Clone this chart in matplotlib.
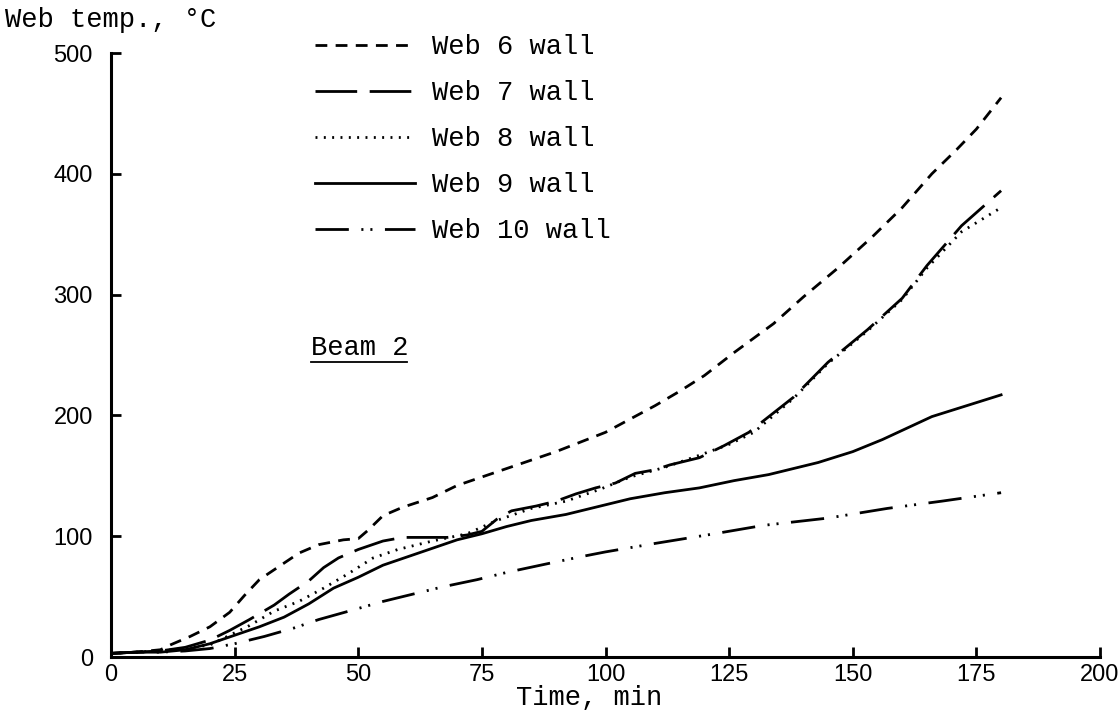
import matplotlib.pyplot as plt
import numpy as np

plt.rcParams['lines.scale_dashes'] = False

# Web 6 wall (dashed)
t6 = [0, 5, 10, 12, 16, 20, 24, 27, 30, 34, 38, 42, 47, 50, 52, 55, 59, 65, 70, 75,
      80, 85, 90, 95, 100, 105, 110, 115, 120, 126, 134, 140, 147, 154, 160, 166, 171, 175, 180]
T6 = [3, 4, 6, 10, 17, 25, 37, 51, 64, 75, 86, 93, 97, 98, 105, 117, 124, 132, 142, 149,
      156, 163, 170, 178, 186, 197, 208, 220, 233, 252, 276, 298, 322, 348, 372, 400, 420, 437, 463]

# Web 7 wall (long dash)
t7 = [0, 5, 10, 15, 20, 24, 28, 33, 36, 40, 43, 46, 50, 55, 59, 64, 68, 72, 75, 78,
      81, 86, 90, 94, 98, 102, 106, 110, 113, 119, 124, 129, 138, 145, 153, 160, 165, 172, 180]
T7 = [3, 4, 5, 8, 14, 22, 31, 43, 52, 63, 74, 82, 89, 96, 99, 99, 99, 101, 104, 114,
      121, 125, 129, 135, 140, 144, 152, 155, 159, 165, 175, 186, 215, 244, 271, 297, 324, 357, 386]

# Web 8 wall (dotted)
t8 = [0, 5, 10, 15, 20, 24, 28, 33, 38, 43, 48, 53, 58, 65, 72, 78, 85, 92, 99, 105,
      112, 119, 125, 130, 138, 145, 153, 160, 165, 172, 180]
T8 = [3, 4, 5, 7, 10, 18, 26, 38, 46, 57, 69, 82, 89, 96, 102, 113, 123, 129, 139, 149,
      157, 167, 176, 186, 214, 243, 270, 296, 322, 352, 372]

# Web 9 wall (solid)
t9 = [0, 5, 10, 15, 20, 25, 30, 35, 40, 45, 50, 55, 60, 65, 70, 75, 80, 85, 92, 99,
      105, 112, 119, 126, 133, 143, 150, 156, 166, 173, 180]
T9 = [3, 4, 4, 6, 11, 18, 25, 33, 44, 57, 66, 76, 83, 90, 97, 102, 108, 113, 118, 125,
      131, 136, 140, 146, 151, 161, 170, 180, 199, 208, 217]

# Web 10 wall (dash-dot-dot)
t10 = [0, 5, 10, 15, 20, 25, 31, 37, 42, 49, 55, 61, 67, 74, 80, 88, 95, 100, 110,
       122, 132, 145, 157, 168, 180]
T10 = [3, 4, 4, 5, 7, 11, 17, 24, 31, 39, 46, 52, 58, 64, 70, 77, 83, 87, 94,
       102, 109, 115, 123, 129, 136]

xticks = [0, 25, 50, 75, 100, 125, 150, 175, 200]
yticks = [0, 100, 200, 300, 400, 500]

mono = 'Liberation Mono'
fs = 19.5

fig = plt.figure(figsize=(11.18, 7.13), dpi=100)
ax = fig.add_axes([111 / 1118, 1 - 657 / 713, (1100 - 111) / 1118, (657 - 53) / 713])

lw = 2.0
ax.plot(t6, T6, color='black', lw=lw, dashes=(8.5, 6), label='Web 6 wall')
ax.plot(t7, T7, color='black', lw=lw, dashes=(30, 9), label='Web 7 wall')
ax.plot(t8, T8, color='black', lw=lw, dashes=(1.4, 4.6), label='Web 8 wall')
ax.plot(t9, T9, color='black', lw=lw, label='Web 9 wall')
ax.plot(t10, T10, color='black', lw=lw, dashes=(24, 9, 1.5, 5, 1.5, 9), label='Web 10 wall')

ax.set_xlim(0, 200)
ax.set_ylim(0, 500)
ax.set_xticks(xticks)
ax.set_yticks(yticks)
for s in ['top', 'right']:
    ax.spines[s].set_visible(False)
for s in ['left', 'bottom']:
    ax.spines[s].set_linewidth(2.2)
ax.tick_params(direction='in', length=7, width=2, labelsize=17)
ax.tick_params(axis='x', pad=5)
ax.tick_params(axis='y', pad=13)
for lab in ax.get_xticklabels() + ax.get_yticklabels():
    lab.set_family('Liberation Sans')

leg = ax.legend(loc='upper left', bbox_to_anchor=(315 / 1118, 1 - 34 / 713),
                bbox_transform=fig.transFigure, frameon=False, handlelength=3.69,
                handletextpad=0.63, labelspacing=0.74, borderpad=0, borderaxespad=0,
                prop={'family': mono, 'size': fs})

ax.text(40.5, 256, 'Beam 2', family=mono, fontsize=fs, va='center', ha='left')
ax.plot([40.5, 59.8], [244, 244], color='black', lw=1.3)

fig.text(5 / 1118, 1 - 20 / 713, 'Web temp., \u00b0C', family=mono, fontsize=fs,
         va='center', ha='left')
fig.text(516 / 1118, 1 - 698 / 713, 'Time, min', family=mono, fontsize=fs,
         va='center', ha='left')

fig.savefig('out.png', dpi=100)
